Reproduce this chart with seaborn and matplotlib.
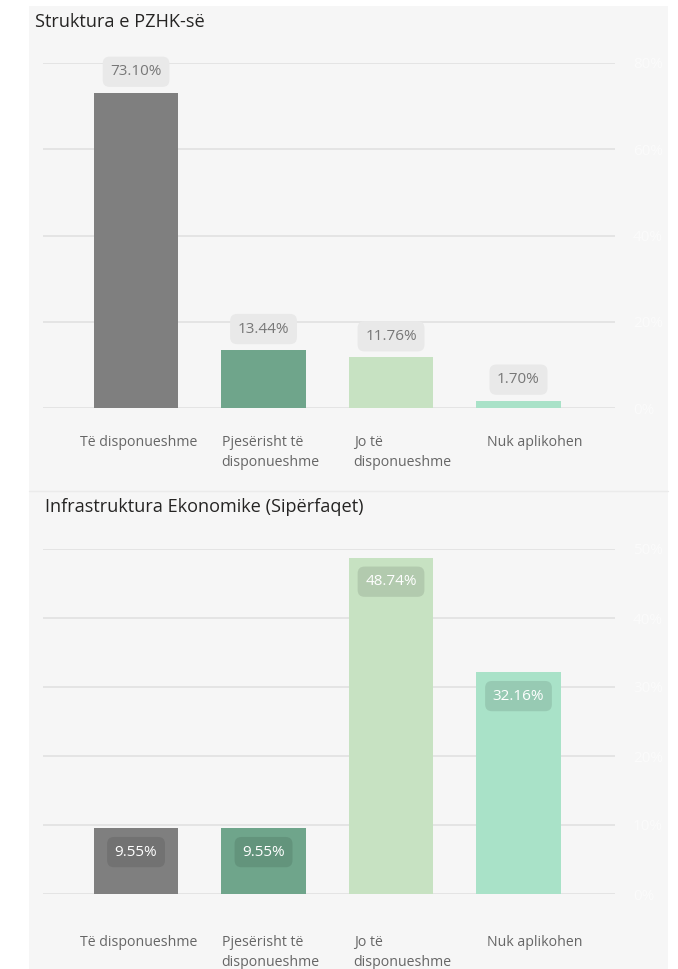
import matplotlib
matplotlib.use("Agg")
import matplotlib.pyplot as plt
from matplotlib.patches import Rectangle
from matplotlib.lines import Line2D
import matplotlib.transforms as mtransforms
import seaborn as sns
import pandas as pd

# ---- data ----
categories = ["Të disponueshme", "Pjesërisht të\ndisponueshme",
              "Jo të\ndisponueshme", "Nuk aplikohen"]
pzhk_values = [73.10, 13.44, 11.76, 1.70]
infra_values = [9.55, 9.55, 48.74, 32.16]
titles = ["Struktura e PZHK-së", "Infrastruktura Ekonomike (Sipërfaqet)"]
pzhk_ticks = [0, 20, 40, 60, 80]
infra_ticks = [0, 10, 20, 30, 40, 50]
bar_colors = ["#7f7f7f", "#6fa58b", "#c7e2c2", "#a9e2c8"]

sns.set_theme(style="white")
plt.rcParams["font.family"] = ["Open Sans", "DejaVu Sans"]

W, H = 678, 969
fig = plt.figure(figsize=(W / 100, H / 100), dpi=100)
fig.patch.set_facecolor("white")

# panel background and divider
fig.add_artist(Rectangle((29 / W, 0), (668 - 29) / W, 1 - 6 / H,
                         transform=fig.transFigure, facecolor="#f6f6f6",
                         edgecolor="none", zorder=-10))
fig.add_artist(Line2D([29 / W, 668 / W], [1 - 491 / H, 1 - 491 / H],
                      transform=fig.transFigure, color="#ebebeb", lw=1))


def px_box(top, bottom):
    return [43 / W, 1 - bottom / H, (615 - 43) / W, (bottom - top) / H]


def draw_panel(rect, values, ticks, title, title_xy, inside, label_gap):
    ax = fig.add_axes(rect)
    df = pd.DataFrame({"cat": categories, "val": values})
    sns.barplot(data=df, x="cat", y="val", hue="cat", palette=bar_colors,
                width=0.66, legend=False, ax=ax, saturation=1, linewidth=0)
    ax.set_facecolor("none")
    ax.set_xlim(-0.73, 3.757)
    ax.set_ylim(0, ticks[-1])
    ax.set_yticks(ticks)
    ax.set_yticklabels([f"{t}%" for t in ticks], color="#fbfbfb", fontsize=11)
    ax.yaxis.tick_right()
    ax.tick_params(axis="y", length=0, pad=13)
    ax.grid(axis="y", color="#e3e3e3", lw=1.3)
    ax.set_axisbelow(True)
    for s in ax.spines.values():
        s.set_visible(False)
    ax.set_xlabel("")
    ax.set_ylabel("")
    ax.set_xticks(range(len(categories)))
    ax.set_xticklabels([])
    ax.tick_params(axis="x", length=0)

    # category labels under the axis
    for i, c in enumerate(categories):
        off = mtransforms.offset_copy(ax.transData, fig=fig, x=2.5 + 4.6 * i,
                                      y=-label_gap, units="dots")
        ax.text(i, 0, c, transform=off, ha="center", va="top",
                multialignment="left", fontsize=10.2, color="#666666",
                linespacing=1.45)

    # value labels
    for i, v in enumerate(values):
        if inside:
            off = mtransforms.offset_copy(ax.transData, fig=fig, x=0, y=-24,
                                          units="dots")
            ax.text(i, v, f"{v:.2f}%", transform=off, ha="center", va="center",
                    fontsize=11, color="white", zorder=5,
                    bbox=dict(boxstyle="round,pad=0.5,rounding_size=0.45",
                              fc=(0, 0, 0, 0.1), ec="none"))
        else:
            off = mtransforms.offset_copy(ax.transData, fig=fig, x=0, y=21,
                                          units="dots")
            ax.text(i, v, f"{v:.2f}%", transform=off, ha="center", va="center",
                    fontsize=11, color="#777777", zorder=5,
                    bbox=dict(boxstyle="round,pad=0.5,rounding_size=0.45",
                              fc="#e9e9e9", ec="none"))

    fig.text(title_xy[0] / W, 1 - title_xy[1] / H, title, ha="left",
             va="center", fontsize=13.1, color="#252423")
    return ax


draw_panel(px_box(63, 408), pzhk_values, pzhk_ticks, titles[0], (35, 22),
           inside=False, label_gap=27)
draw_panel(px_box(549, 894), infra_values, infra_ticks, titles[1], (45, 507),
           inside=True, label_gap=41)

fig.savefig("out.png", dpi=100, facecolor="white")
